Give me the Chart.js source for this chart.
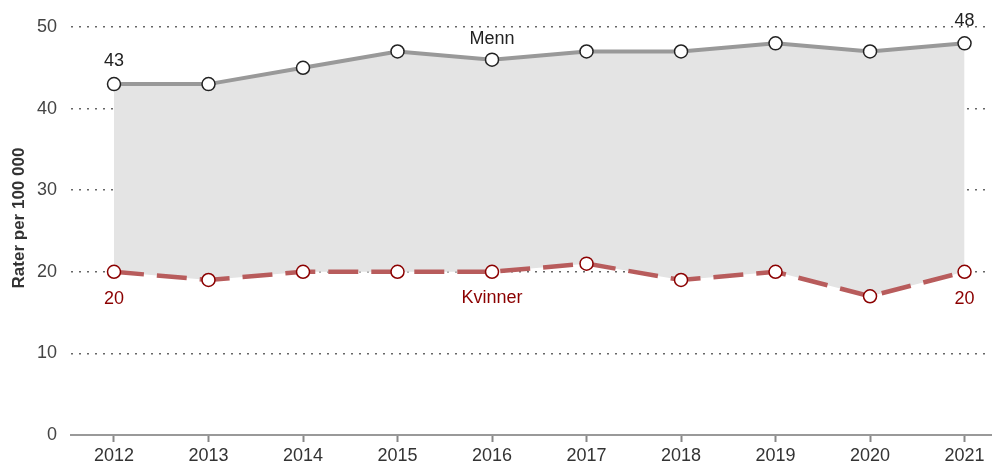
<!DOCTYPE html>
<html lang="no">
<head>
    <meta charset="UTF-8">
    <title>Rater per 100 000</title>
    <script src="https://cdnjs.cloudflare.com/ajax/libs/Chart.js/4.4.1/chart.umd.min.js"></script>
    <style>
        html, body { margin: 0; padding: 0; background: #fff; }
        #wrap { width: 999px; height: 476px; }
    </style>
</head>
<body>
    <div id="wrap"><canvas id="chart"></canvas></div>

    <script>
        var years = [2012, 2013, 2014, 2015, 2016, 2017, 2018, 2019, 2020, 2021];
        var menn = [43, 43, 45, 47, 46, 47, 47, 48, 47, 48];
        var kvinner = [20, 19, 20, 20, 20, 21, 19, 20, 17, 20];
        var yTicks = [0, 10, 20, 30, 40, 50];
        var yTitle = 'Rater per 100 000';

        var font = '"Liberation Sans", Arial, sans-serif';

        function pts(arr) {
            return arr.map(function (v, i) { return { x: years[i], y: v }; });
        }

        // tekster ved første/siste punkt, serienavn og aksetittel
        var labelPlugin = {
            id: 'labels',
            afterDatasetsDraw: function (chart) {
                var ctx = chart.ctx;
                var xs = chart.scales.x, ys = chart.scales.y;
                var last = years.length - 1;
                ctx.save();
                ctx.font = '18px ' + font;
                ctx.textAlign = 'center';
                ctx.textBaseline = 'middle';

                ctx.fillStyle = '#222';
                ctx.fillText(String(menn[0]), xs.getPixelForValue(years[0]), ys.getPixelForValue(menn[0]) - 23);
                ctx.fillText(String(menn[last]), xs.getPixelForValue(years[last]), ys.getPixelForValue(menn[last]) - 22);
                ctx.fillText('Menn', xs.getPixelForValue(years[4]), ys.getPixelForValue(menn[4]) - 21);

                ctx.fillStyle = '#8b0000';
                ctx.fillText(String(kvinner[0]), xs.getPixelForValue(years[0]), ys.getPixelForValue(kvinner[0]) + 27);
                ctx.fillText(String(kvinner[last]), xs.getPixelForValue(years[last]), ys.getPixelForValue(kvinner[last]) + 27);
                ctx.fillText('Kvinner', xs.getPixelForValue(years[4]), ys.getPixelForValue(kvinner[4]) + 26);

                // aksetittel
                ctx.translate(19, 218);
                ctx.rotate(-Math.PI / 2);
                ctx.font = 'bold 17px ' + font;
                ctx.fillStyle = '#333';
                ctx.fillText(yTitle, 0, 0);
                ctx.restore();
            }
        };

        new Chart(document.getElementById('chart'), {
            type: 'line',
            data: {
                datasets: [{
                    label: 'Menn',
                    data: pts(menn),
                    borderColor: '#999999',
                    borderWidth: 4,
                    backgroundColor: '#e4e4e4',
                    fill: '+1',
                    pointRadius: 6.5,
                    pointBorderWidth: 1.5,
                    pointBackgroundColor: '#ffffff',
                    pointBorderColor: '#222222',
                    order: 1,
                    tension: 0
                }, {
                    label: 'Kvinner',
                    data: pts(kvinner),
                    borderColor: '#b85c5c',
                    borderWidth: 4.5,
                    borderDash: [30, 13],
                    fill: false,
                    pointRadius: 6.5,
                    pointBorderWidth: 1.5,
                    pointBackgroundColor: '#ffffff',
                    pointBorderColor: '#8b0000',
                    order: 0,
                    tension: 0
                }]
            },
            options: {
                responsive: true,
                maintainAspectRatio: false,
                animation: false,
                clip: false,
                layout: { padding: { top: 27, right: 1, left: 0, bottom: 0 } },
                plugins: {
                    legend: { display: false },
                    tooltip: { enabled: false },
                    filler: { drawTime: 'beforeDatasetsDraw' }
                },
                scales: {
                    x: {
                        type: 'linear',
                        min: 2011.545,
                        max: 2021.28,
                        afterBuildTicks: function (s) {
                            s.ticks = years.map(function (y) { return { value: y }; });
                        },
                        afterFit: function (s) {
                            s.height = 41;
                            s.paddingLeft = 0;
                            s.paddingRight = 0;
                        },
                        grid: { drawOnChartArea: false, drawTicks: true, tickLength: 7, tickWidth: 2, tickColor: '#888' },
                        border: { color: '#999', width: 2 },
                        ticks: {
                            padding: 3,
                            color: '#333',
                            font: { family: font, size: 18 },
                            callback: function (v) { return String(v); },
                            maxRotation: 0
                        }
                    },
                    y: {
                        min: 0,
                        max: 50,
                        afterBuildTicks: function (s) {
                            s.ticks = yTicks.map(function (v) { return { value: v }; });
                        },
                        afterFit: function (s) { s.width = 71; },
                        grid: {
                            drawTicks: false,
                            lineWidth: 1.5,
                            color: function (c) { return c.tick && c.tick.value === 0 ? 'rgba(0,0,0,0)' : '#666'; }
                        },
                        border: { display: false, dash: [2, 6] },
                        ticks: {
                            padding: 14,
                            color: '#444',
                            font: { family: font, size: 18 }
                        }
                    }
                }
            },
            plugins: [labelPlugin]
        });
    </script>
</body>
</html>
